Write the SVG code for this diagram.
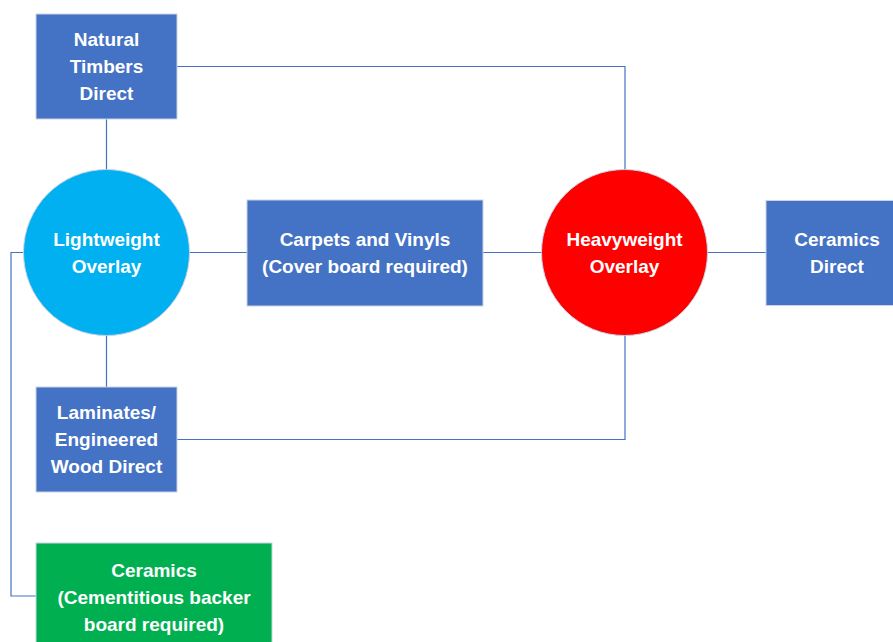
<svg xmlns="http://www.w3.org/2000/svg" width="893" height="642" viewBox="0 0 893 642">
<style>
.box{fill:#4472C4;stroke:#C9D3E6;stroke-width:1}
.t{font-family:"Liberation Sans",Arial,sans-serif;font-weight:bold;font-size:19px;fill:#FFFFFF;text-anchor:middle}
.c{fill:none;stroke:#4472C4;stroke-width:1.2}
</style>
<rect width="893" height="642" fill="#FFFFFF"/>
<g id="connectors">
<path class="c" d="M106.5,119 V170"/>
<path class="c" d="M106.5,335 V387"/>
<path class="c" d="M177,66.5 H625 V170"/>
<path class="c" d="M177,439.5 H625 V335"/>
<path class="c" d="M189,252.5 H247"/>
<path class="c" d="M483,252.5 H542"/>
<path class="c" d="M707,252.5 H766"/>
<path class="c" d="M23,252.5 H11 V596 H36"/>
</g>
<g id="natural-timbers">
<rect class="box" x="36" y="14" width="141" height="105"/>
<text class="t" x="106.5" y="45.5">Natural</text>
<text class="t" x="106.5" y="72.5">Timbers</text>
<text class="t" x="106.5" y="99.5">Direct</text>
</g>
<g id="lightweight">
<circle cx="106.5" cy="252.5" r="83" fill="#00B0F0" stroke="#C9D3E6" stroke-width="1"/>
<text class="t" x="106.5" y="245.5">Lightweight</text>
<text class="t" x="106.5" y="272.5">Overlay</text>
</g>
<g id="carpets">
<rect class="box" x="247" y="200" width="236" height="106"/>
<text class="t" x="365" y="245.5">Carpets and Vinyls</text>
<text class="t" x="365" y="272.5">(Cover board required)</text>
</g>
<g id="heavyweight">
<circle cx="624.5" cy="252.5" r="83" fill="#FF0000" stroke="#C9D3E6" stroke-width="1"/>
<text class="t" x="624.5" y="245.5">Heavyweight</text>
<text class="t" x="624.5" y="272.5">Overlay</text>
</g>
<g id="ceramics-direct">
<rect class="box" x="766" y="200.5" width="140" height="105"/>
<text class="t" x="837" y="245.5">Ceramics</text>
<text class="t" x="837" y="272.5">Direct</text>
</g>
<g id="laminates">
<rect class="box" x="36" y="387" width="141" height="105"/>
<text class="t" x="106.5" y="418.5">Laminates/</text>
<text class="t" x="106.5" y="445.5">Engineered</text>
<text class="t" x="106.5" y="472.5">Wood Direct</text>
</g>
<g id="ceramics-backer">
<rect x="36" y="543" width="236" height="110" fill="#00B050" stroke="#C9D3E6" stroke-width="1"/>
<text class="t" x="154" y="576.5">Ceramics</text>
<text class="t" x="154" y="603.5">(Cementitious backer</text>
<text class="t" x="154" y="630.5">board required)</text>
</g>
</svg>
